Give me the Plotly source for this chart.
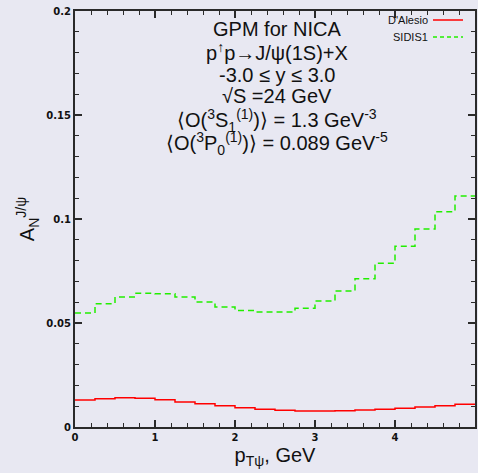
import plotly.graph_objects as go

bin_edges = [0.0, 0.25, 0.5, 0.75, 1.0, 1.25, 1.5, 1.75, 2.0, 2.25, 2.5,
             2.75, 3.0, 3.25, 3.5, 3.75, 4.0, 4.25, 4.5, 4.75, 5.0]
dalesio = [0.0130, 0.0136, 0.0141, 0.0138, 0.0131, 0.0120, 0.0112, 0.0102,
           0.0093, 0.0085, 0.0080, 0.0077, 0.0077, 0.0078, 0.0082, 0.0085,
           0.0090, 0.0096, 0.0102, 0.0109]
sidis1 = [0.0548, 0.0593, 0.0625, 0.0643, 0.0641, 0.0625, 0.0601, 0.0577,
          0.0560, 0.0553, 0.0553, 0.0571, 0.0606, 0.0654, 0.0713, 0.0787,
          0.0869, 0.0952, 0.1035, 0.1110]
x_ticks = [0, 1, 2, 3, 4, 5]
y_ticks = [0, 0.05, 0.1, 0.15, 0.2]
y_tick_labels = ["0", "0.05", "0.1", "0.15", "0.2"]

BG = "#e8e8f2"
AX = "#2a2a2a"

fig = go.Figure()
fig.add_trace(go.Scatter(x=bin_edges, y=dalesio + [dalesio[-1]], mode="lines",
                         line=dict(color="#ff0000", width=1.5, shape="hv"),
                         name="D'Alesio", showlegend=False))
fig.add_trace(go.Scatter(x=bin_edges, y=sidis1 + [sidis1[-1]], mode="lines",
                         line=dict(color="#22ee00", width=1.5, shape="hv", dash="6px,4px"),
                         name="SIDIS1", showlegend=False))

axis_common = dict(showline=True, linecolor=AX, linewidth=2, mirror="ticks",
                   ticks="inside", tickcolor=AX, tickwidth=1.5, ticklen=7,
                   showgrid=False, zeroline=False, automargin=False,
                   tickfont=dict(family="DejaVu Sans", size=10, color="#111", weight="bold"))

fig.update_xaxes(range=[0, 5], tickvals=x_ticks, ticktext=[str(v) for v in x_ticks],
                 minor=dict(ticks="inside", dtick=0.2, ticklen=4, tickcolor=AX, tickwidth=1.2),
                 title=dict(text="p<sub>Tψ</sub>, GeV", font=dict(family="Liberation Sans", size=20, color="#111"),
                            standoff=6),
                 **axis_common)
fig.update_yaxes(range=[0, 0.2], tickvals=y_ticks, ticktext=y_tick_labels,
                 minor=dict(ticks="inside", dtick=0.01, ticklen=4, tickcolor=AX, tickwidth=1.2),
                 title=dict(text="A<sub>N</sub><sup>J/ψ</sup>", font=dict(family="Liberation Sans", size=20, color="#111"),
                            standoff=6),
                 **axis_common)

fs = 20
lines = [
    "GPM for NICA",
    "p<sup>↑</sup>p→J/ψ(1S)+X",
    "-3.0 ≤ y ≤ 3.0",
    "√S =24 GeV",
    "⟨O(<sup>3</sup>S<sub>1</sub><sup>(1)</sup>)⟩ = 1.3 GeV<sup>-3</sup>",
    "⟨O(<sup>3</sup>P<sub>0</sub><sup>(1)</sup>)⟩ = 0.089 GeV<sup>-5</sup>",
]
ys_px = [29, 52, 75, 96, 120, 143]
H = 473
W = 478
mt, mb, ml, mr = 11, 46, 75, 3
ph = H - mt - mb
pw = W - ml - mr
for t, yp in zip(lines, ys_px):
    fig.add_annotation(text=t, xref="paper", yref="paper",
                       x=(277 - ml) / pw, y=1 - (yp - mt) / ph,
                       xanchor="center", yanchor="middle", showarrow=False,
                       font=dict(family="Liberation Sans", size=fs, color="#111"))

# legend drawn manually
leg = [("D'Alesio", "#ff0000", "solid", 20), ("SIDIS1", "#22ee00", "4px,3px", 37)]
for name, col, dash, yp in leg:
    yy = 1 - (yp - mt) / ph
    fig.add_annotation(text=name, xref="paper", yref="paper",
                       x=(430 - ml) / pw, y=yy, xanchor="right", yanchor="middle",
                       showarrow=False, font=dict(family="Liberation Sans", size=11, color="#111"))
    fig.add_shape(type="line", xref="paper", yref="paper",
                  x0=(433 - ml) / pw, x1=(463 - ml) / pw, y0=yy, y1=yy,
                  line=dict(color=col, width=1.5, dash=dash))

fig.update_layout(width=W, height=H, margin=dict(l=ml, r=mr, t=mt, b=mb),
                  paper_bgcolor=BG, plot_bgcolor=BG, showlegend=False)

fig.write_html("out.html", config={"displayModeBar": False},
               post_script="document.body.style.margin='0';document.body.style.overflow='hidden';"
                           "document.body.style.background='" + BG + "';")
